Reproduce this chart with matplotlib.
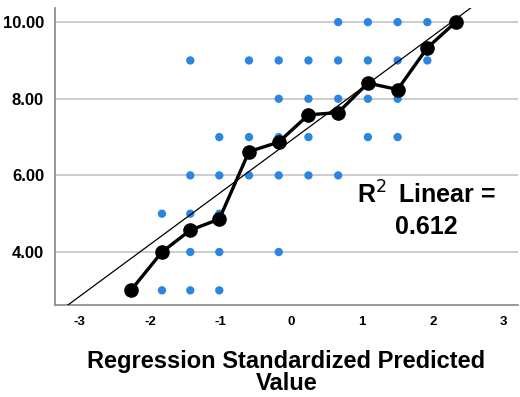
import matplotlib.pyplot as plt
import numpy as np

plt.rcParams['font.family'] = ['Liberation Sans', 'DejaVu Sans']

# predicted value groups (standardized) and observed values in each group
pred_x = [-2.27, -1.83, -1.43, -1.02, -0.60, -0.18, 0.24, 0.66, 1.08, 1.50, 1.92, 2.32]
obs_y = [
    [3],
    [3, 5],
    [3, 4, 5, 6, 9],
    [3, 4, 5, 6, 7],
    [6, 7, 9],
    [4, 6, 7, 8, 9],
    [6, 7, 8, 9],
    [6, 8, 9, 10],
    [7, 8, 9, 10],
    [7, 8, 9, 10],
    [9, 10],
    [10],
]
# group means (black line)
mean_y = [3.0, 4.0, 4.57, 4.86, 6.62, 6.87, 7.58, 7.64, 8.41, 8.24, 9.33, 10.0]

# linear fit
fit_intercept = 6.92
fit_slope = 1.362
r2_text = "R$^2\\,$ Linear =\n0.612"

yticks = [4, 6, 8, 10]
xticks = [-3, -2, -1, 0, 1, 2, 3]

fig = plt.figure(figsize=(5.2, 3.97), dpi=100)
ax = fig.add_axes([0.106, 0.232, 0.89, 0.748])

xmin, xmax = -3.34, 3.2
ymin, ymax = 2.62, 10.37

for yv in yticks:
    ax.axhline(yv, color='#c8c8c8', lw=1.3, zorder=0)

sx, sy = [], []
for x, ys in zip(pred_x, obs_y):
    for y in ys:
        sx.append(x)
        sy.append(y)
ax.scatter(sx, sy, s=36, color='#2a86e0', edgecolors='none', zorder=2)

xs = np.array([xmin, xmax])
ax.plot(xs, fit_intercept + fit_slope * xs, color='black', lw=0.9, zorder=3)

ax.plot(pred_x, mean_y, color='black', lw=2.4, marker='o', markersize=9.5, zorder=4)

ax.text(1.91, 5.09, r2_text, ha='center', va='center', fontsize=18,
        fontweight='bold', linespacing=1.35, zorder=5)

ax.set_xlim(xmin, xmax)
ax.set_ylim(ymin, ymax)
ax.set_xticks(xticks)
ax.set_xticklabels([str(t) for t in xticks], fontsize=9.5, fontweight='bold')
ax.set_yticks(yticks)
ax.set_yticklabels([f"{t:.2f}" for t in yticks], fontsize=12, fontweight='bold')
ax.tick_params(length=0, pad=8)
ax.tick_params(axis='x', pad=8)

ax.set_xlabel("Regression Standardized Predicted\nValue", fontsize=17,
              fontweight='bold', linespacing=0.95, labelpad=16)

for s in ['top', 'right']:
    ax.spines[s].set_visible(False)
for s in ['left', 'bottom']:
    ax.spines[s].set_color('#888888')
    ax.spines[s].set_linewidth(1.2)

fig.savefig('out.png', dpi=100)
